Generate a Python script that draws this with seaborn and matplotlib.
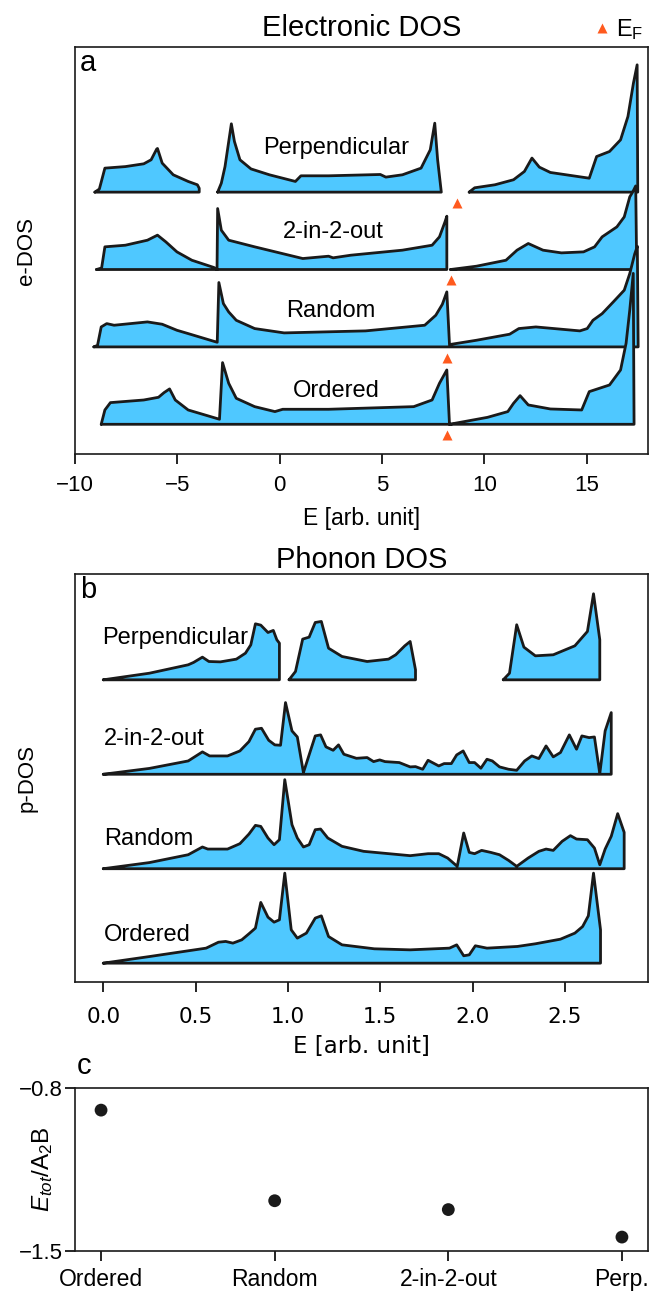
import numpy as np
import matplotlib
matplotlib.use("Agg")
import matplotlib.pyplot as plt
import seaborn as sns

sns.set_theme(style="ticks")
plt.rcParams['font.family'] = ['Liberation Sans', 'DejaVu Sans']
plt.rcParams['mathtext.fontset'] = 'custom'
plt.rcParams['mathtext.rm'] = 'Liberation Sans'
plt.rcParams['mathtext.it'] = 'Liberation Sans:italic'
plt.rcParams['axes.linewidth'] = 1.2
plt.rcParams['xtick.major.width'] = 1.2
plt.rcParams['ytick.major.width'] = 1.2
plt.rcParams['xtick.major.size'] = 7
plt.rcParams['ytick.major.size'] = 7
plt.rcParams['xtick.major.pad'] = 5.5
plt.rcParams['ytick.major.pad'] = 2
for key in ['text.color', 'axes.labelcolor', 'xtick.color', 'ytick.color', 'axes.edgecolor']:
    plt.rcParams[key] = 'black'

nan = np.nan
# ---------------- Electronic DOS (energy E, DOS height D); NaN separates segments
structures = ["Ordered", "Random", "2-in-2-out", "Perpendicular"]

e_ord_E = [-8.72, -8.54, -8.27, -6.64, -5.92, -5.65, -5.38, -5.1, -4.47, -2.94, -2.79, -2.49, -2.12,
           -1.22, -0.23, 0.15, 2.39, 6.55, 7.45, 7.81, 8.17, 8.3, 10.16, 11.15, 11.43, 11.75, 12.15,
           13.23, 14.76, 15.13, 16.12, 16.66, 16.93, 17.11, 17.28, 17.32]
e_ord_D = [0, 0.185, 0.28, 0.314, 0.349, 0.409, 0.457, 0.314, 0.185, 0.065, 0.797, 0.53, 0.336,
           0.228, 0.164, 0.194, 0.194, 0.228, 0.314, 0.53, 0.702, 0.0, 0.09, 0.164, 0.271, 0.37, 0.25,
           0.198, 0.185, 0.422, 0.508, 0.702, 1.047, 1.477, 1.95, 0]

e_rnd_E = [-9.08, -8.9, -8.72, -8.45, -8.09, -6.46, -5.74, -5.02, -4.47, -3.12, -3.05, -2.97, -2.75,
           -2.49, -2.12, -1.22, 0.22, 4.2, 7.09, 7.63, 7.95, 8.17, 8.3, 9.62, 11.24, 11.69, 12.52,
           14.67, 15.03, 15.31, 15.76, 16.3, 16.84, 17.11, 17.35, 17.48, 17.52]
e_rnd_D = [0, 0.02, 0.258, 0.301, 0.28, 0.323, 0.293, 0.215, 0.172, 0.065, 0.06, 0.832, 0.56,
           0.452, 0.344, 0.237, 0.181, 0.207, 0.28, 0.409, 0.55, 0.711, 0.03, 0.086, 0.164, 0.237, 0.258,
           0.207, 0.237, 0.344, 0.43, 0.58, 0.733, 0.948, 1.2, 1.3, 0]

e_2i2o_E = [-8.95, -8.7, -8.54, -7.54, -6.46, -5.97, -5.56, -5.02, -4.29, -3.21, -3.06, -3.03, -2.85,
            -2.49, -1.22, 1.13, 2.39, 2.61, 3.48, 6.0, 7.45, 7.81, 8.08, 8.17, 8.17, nan,
            8.35, 9.62, 11.06, 11.6, 12.15, 12.87, 13.77, 14.85, 15.39, 15.76, 16.48, 16.84, 17.11,
            17.25, 17.4, 17.45]
e_2i2o_D = [0, 0.02, 0.293, 0.314, 0.379, 0.444, 0.357, 0.228, 0.12, 0.026, 0.0, 0.788, 0.508,
            0.379, 0.293, 0.142, 0.172, 0.151, 0.185, 0.25, 0.314, 0.422, 0.616, 0.689, 0, nan,
            0, 0.043, 0.12, 0.25, 0.336, 0.25, 0.215, 0.228, 0.293, 0.422, 0.551, 0.68, 0.939,
            1.0, 1.08, 0]

e_perp_E = [-9.03, -8.81, -8.54, -7.54, -6.64, -6.28, -6.01, -5.97, -5.74, -5.2, -4.47, -4.02, -3.93, -3.93, nan,
            -3.03, -2.85, -2.67, -2.36, -2.21, -1.94, -1.40, -0.50, 0.77, 1.04, 2.39, 4.92, 5.19, 6.0,
            6.91, 7.36, 7.58, 7.72, 7.90, nan,
            9.26, 9.53, 10.52, 11.43, 11.96, 12.33, 12.69, 13.23, 15.13, 15.49, 16.12, 16.66, 17.02,
            17.29, 17.47, 17.5]
e_perp_D = [0, 0.04, 0.31, 0.33, 0.366, 0.418, 0.556, 0.564, 0.375, 0.224, 0.138, 0.095, 0.05, 0, nan,
            0, 0.116, 0.33, 0.883, 0.655, 0.418, 0.30, 0.224, 0.138, 0.211, 0.211, 0.228, 0.194, 0.224,
            0.31, 0.547, 0.891, 0.418, 0, nan,
            0, 0.056, 0.095, 0.16, 0.267, 0.44, 0.323, 0.254, 0.18, 0.46, 0.525, 0.676, 0.977,
            1.41, 1.645, 0]

fermi_E = [8.17, 8.17, 8.39, 8.65]
e_label_x = [2.78, 2.5, 2.6, 2.78]
e_label_h = [0.43, 0.46, 0.48, 0.57]
e_ticks = [-10, -5, 0, 5, 10, 15]

# ---------------- Phonon DOS
p_ord_E = [0, 0.25, 0.557, 0.624, 0.663, 0.702, 0.75, 0.789, 0.824, 0.853, 0.892, 0.925, 0.954, 0.983,
           1.018, 1.051, 1.1, 1.148, 1.181, 1.22, 1.293, 1.468, 1.662, 1.875, 1.914, 1.952, 1.982,
           2.015, 2.078, 2.243, 2.34, 2.476, 2.554, 2.596, 2.627, 2.655, 2.693, 2.693]
p_ord_D = [0, 0.07, 0.159, 0.222, 0.23, 0.212, 0.247, 0.311, 0.371, 0.643, 0.487, 0.434, 0.459, 0.953,
           0.353, 0.265, 0.318, 0.477, 0.501, 0.282, 0.194, 0.152, 0.141, 0.159, 0.194, 0.078, 0.088,
           0.184, 0.159, 0.177, 0.205, 0.254, 0.318, 0.388, 0.501, 0.953, 0.353, 0]

p_rnd_E = [0, 0.25, 0.46, 0.537, 0.566, 0.673, 0.74, 0.789, 0.824, 0.853, 0.892, 0.925, 0.954, 0.983,
           1.022, 1.051, 1.084, 1.115, 1.148, 1.177, 1.216, 1.293, 1.41, 1.662, 1.759, 1.817, 1.865,
           1.917, 1.952, 1.982, 2.011, 2.049, 2.098, 2.146, 2.195, 2.239, 2.301, 2.359, 2.398, 2.437,
           2.485, 2.53, 2.563, 2.622, 2.66, 2.689, 2.718, 2.751, 2.786, 2.821, 2.821]
p_rnd_D = [0, 0.065, 0.148, 0.23, 0.208, 0.208, 0.265, 0.367, 0.459, 0.448, 0.325, 0.254, 0.307, 0.943,
           0.466, 0.325, 0.23, 0.254, 0.413, 0.42, 0.325, 0.237, 0.184, 0.138, 0.159, 0.159, 0.113,
           0.025, 0.378, 0.173, 0.159, 0.194, 0.173, 0.148, 0.088, 0.025, 0.113, 0.184, 0.208, 0.194,
           0.29, 0.35, 0.314, 0.307, 0.219, 0.042, 0.208, 0.343, 0.583, 0.385, 0]

p_2i2o_E = [0, 0.25, 0.46, 0.537, 0.576, 0.673, 0.74, 0.789, 0.824, 0.857, 0.896, 0.929, 0.96, 0.987,
            1.022, 1.051, 1.084, 1.148, 1.177, 1.206, 1.245, 1.274, 1.303, 1.371, 1.429, 1.464, 1.497,
            1.526, 1.603, 1.662, 1.691, 1.73, 1.759, 1.817, 1.846, 1.885, 1.914, 1.949, 1.982, 2.011,
            2.045, 2.078, 2.107, 2.146, 2.195, 2.239, 2.282, 2.321, 2.359, 2.398, 2.437, 2.476, 2.524,
            2.563, 2.592, 2.631, 2.66, 2.689, 2.718, 2.751, 2.751]
p_2i2o_D = [0, 0.062, 0.141, 0.237, 0.194, 0.194, 0.247, 0.346, 0.477, 0.487, 0.36, 0.311, 0.307, 0.759,
            0.459, 0.395, 0.018, 0.406, 0.417, 0.29, 0.254, 0.311, 0.212, 0.169, 0.177, 0.134, 0.152,
            0.134, 0.124, 0.078, 0.081, 0.053, 0.148, 0.088, 0.113, 0.113, 0.205, 0.247, 0.124, 0.124,
            0.064, 0.159, 0.141, 0.078, 0.053, 0.042, 0.141, 0.194, 0.166, 0.3, 0.184, 0.23, 0.417,
            0.265, 0.406, 0.388, 0.395, 0.007, 0.459, 0.653, 0]

p_perp_E = [0, 0.25, 0.46, 0.489, 0.537, 0.572, 0.634, 0.721, 0.77, 0.799, 0.824, 0.853, 0.892, 0.921,
            0.94, 0.954, 0.954, nan,
            1.006, 1.041, 1.08, 1.115, 1.148, 1.181, 1.22, 1.293, 1.429, 1.545, 1.584, 1.633, 1.662,
            1.691, 1.691, nan,
            2.166, 2.2, 2.239, 2.278, 2.34, 2.437, 2.554, 2.622, 2.655, 2.689, 2.689]
p_perp_D = [0, 0.07, 0.159, 0.184, 0.24, 0.194, 0.19, 0.219, 0.282, 0.37, 0.593, 0.579, 0.501, 0.523,
            0.424, 0.388, 0, nan,
            0, 0.088, 0.431, 0.452, 0.607, 0.618, 0.335, 0.247, 0.194, 0.219, 0.265, 0.36, 0.406,
            0.106, 0, nan,
            0, 0.07, 0.583, 0.346, 0.254, 0.265, 0.36, 0.512, 0.911, 0.424, 0]

p_label_x = [0.005, 0.005, 0.005, -0.005]
p_label_h = [0.3, 0.315, 0.37, 0.445]
p_ticks = [0.0, 0.5, 1.0, 1.5, 2.0, 2.5]

# ---------------- Total energy
c_categories = ["Ordered", "Random", "2-in-2-out", "Perp."]
c_energy = [-0.895, -1.284, -1.322, -1.44]

FILL = '#4FC8FF'
EF_COLOR = '#FF5A1E'
LW = 2.0
FS_TICK = 16
FS_LAB = 16.5
FS_YLAB = 16
FS_TXT = 17
FS_TITLE = 21
FS_PANEL = 21


def draw_curve(ax, E, D, base, z):
    E = np.asarray(E, float)
    D = np.asarray(D, float)
    ax.fill_between(E, base, base + D, facecolor=FILL, edgecolor='none', lw=0, zorder=z)
    cuts = np.where(np.isnan(E))[0]
    for seg in np.split(np.arange(len(E)), cuts):
        seg = seg[~np.isnan(E[seg])]
        xs = np.r_[E[seg], E[seg][0]]
        ys = np.r_[base + D[seg], base + D[seg][0]]
        sns.lineplot(x=xs, y=ys, sort=False, estimator=None, color='k', lw=LW, ax=ax, zorder=z + 0.5)


fig = plt.figure(figsize=(6.5, 12.92), dpi=100)
W = 0.8815
L = 0.1154
ax_a = fig.add_axes([L, 0.6486, W, 0.315])
ax_b = fig.add_axes([L, 0.2399, W, 0.3158])
ax_c = fig.add_axes([L, 0.0317, W, 0.1262])

# ---- panel a
e_curves = [(e_ord_E, e_ord_D), (e_rnd_E, e_rnd_D), (e_2i2o_E, e_2i2o_D), (e_perp_E, e_perp_D)]
for i in range(3, -1, -1):
    draw_curve(ax_a, e_curves[i][0], e_curves[i][1], i, 10 - i)
for i, name in enumerate(structures):
    ax_a.text(e_label_x[i], i + e_label_h[i], name, ha='center', va='center', fontsize=FS_TXT, zorder=20)
ax_a.plot(fermi_E, np.arange(4) - 0.14, ls='none', marker='^', ms=7, color=EF_COLOR,
          mec='none', label=r'E$_\mathrm{F}$', zorder=20)
ax_a.legend(loc='lower right', bbox_to_anchor=(1.0, 1.0), frameon=False, fontsize=FS_TXT,
            handletextpad=0.0, borderpad=0.1, borderaxespad=0.1, handlelength=1.2)
ax_a.set_xlim(-10, 18)
ax_a.set_ylim(-0.384, 4.875)
ax_a.set_xticks(e_ticks)
ax_a.set_yticks([])
ax_a.tick_params(axis='x', labelsize=FS_TICK, pad=8)
ax_a.set_xlabel('E [arb. unit]', fontsize=FS_LAB, labelpad=8)
ax_a.set_ylabel('e-DOS', fontsize=FS_YLAB)
ax_a.yaxis.set_label_coords(-0.066, 0.5)
ax_a.set_title('Electronic DOS', fontsize=FS_TITLE, pad=8)
ax_a.text(0.008, 0.995, 'a', transform=ax_a.transAxes, ha='left', va='top', fontsize=FS_PANEL)

# ---- panel b
p_curves = [(p_ord_E, p_ord_D), (p_rnd_E, p_rnd_D), (p_2i2o_E, p_2i2o_D), (p_perp_E, p_perp_D)]
for i in range(3, -1, -1):
    draw_curve(ax_b, p_curves[i][0], p_curves[i][1], i, 10 - i)
for i, name in enumerate(structures):
    ax_b.text(p_label_x[i], i + p_label_h[i], name, ha='left', va='center', fontsize=FS_TXT, zorder=20)
ax_b.set_xlim(-0.153, 2.95)
ax_b.set_ylim(-0.2, 4.12)
ax_b.set_xticks(p_ticks)
ax_b.set_xticklabels([f'{t:.1f}' for t in p_ticks], fontfamily='DejaVu Sans')
ax_b.set_yticks([])
ax_b.tick_params(axis='x', labelsize=15.5, pad=11)
ax_b.set_xlabel('E [arb. unit]', fontsize=16.5, fontfamily='DejaVu Sans', labelpad=6)
ax_b.set_ylabel('p-DOS', fontsize=FS_YLAB)
ax_b.yaxis.set_label_coords(-0.066, 0.5)
ax_b.set_title('Phonon DOS', fontsize=FS_TITLE, pad=2)
ax_b.text(0.008, 0.995, 'b', transform=ax_b.transAxes, ha='left', va='top', fontsize=FS_PANEL)

# ---- panel c
sns.scatterplot(x=c_categories, y=c_energy, ax=ax_c, color='k', s=85, edgecolor='none', zorder=5)
ax_c.set_xlim(-0.15, 3.15)
ax_c.set_ylim(-1.5, -0.8)
ax_c.set_yticks([-0.8, -1.5])
ax_c.tick_params(axis='both', labelsize=FS_TICK)
ax_c.tick_params(axis='x', labelsize=16.5)
ax_c.set_ylabel(r'$E_{tot}$/A$_2$B', fontsize=17.5)
ax_c.yaxis.set_label_coords(-0.035, 0.5)
ax_c.set_xlabel('')
ax_c.text(0.003, 1.05, 'c', transform=ax_c.transAxes, ha='left', va='bottom', fontsize=FS_PANEL)

for ax in (ax_a, ax_b, ax_c):
    for s in ax.spines.values():
        s.set_visible(True)
        s.set_color('k')

fig.savefig('out.png', dpi=100)
